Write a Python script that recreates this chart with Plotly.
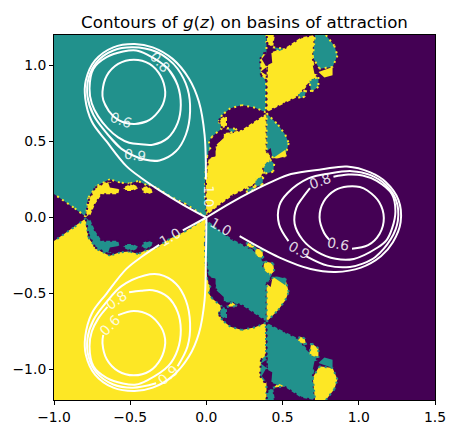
import plotly.graph_objects as go

PURPLE, TEAL, YELLOW, WHITE = "#440154", "#21918c", "#fde725", "#ffffff"
title_text = "Contours of <i>g</i>(<i>z</i>) on basins of attraction"
tick_x = [-1.0, -0.5, 0.0, 0.5, 1.0, 1.5]
tick_y = [-1.0, -0.5, 0.0, 0.5, 1.0]

teal_main = [(-1,1.2),(0.395,1.2),(0.39,0.692),(0.319,0.722),(0.233,0.739),(0.157,0.718),(0.103,0.674),(0.081,0.631),(0.103,0.587),(0.038,0.533),(0.016,0.5),(0.027,0.446),(0.005,0.403),(-0.005,0.305),(-0.01,0.175),(0,0),(-0.135,0.088),(-0.244,0.142),(-0.33,0.197),(-0.395,0.214),(-0.449,0.24),(-0.503,0.223),(-0.568,0.229),(-0.633,0.251),(-0.72,0.207),(-0.774,0.131),(-0.791,0.005),(-0.871,0.066),(-0.936,0.11),(-1,0.155)]
yellow_centre = [(0,0),(-0.005,0.175),(0,0.305),(0.016,0.392),(0.049,0.403),(0.06,0.468),(0.114,0.555),(0.168,0.561),(0.233,0.577),(0.395,0.685),(0.395,0.435),(0.432,0.388),(0.373,0.327),(0.373,0.283),(0.319,0.218),(0.254,0.186),(0.168,0.142),(0.081,0.077),(0.005,0.018)]
yellow_upper = [(0.395,0.692),(0.395,0.978),(0.423,1.087),(0.514,1.113),(0.622,1.185),(0.713,1.2),(0.698,1.043),(0.73,0.935),(0.665,0.87),(0.6,0.794),(0.514,0.751)]
yellow_top = [(0.395,1.2),(0.449,1.2),(0.438,1.12),(0.4,1.141)]
yellow_side = [(0.352,1.043),(0.384,1.087),(0.4,1.05),(0.395,0.9),(0.358,0.935)]
yellow_lobe_tip = [(0.081,0.642),(0.135,0.674),(0.135,0.598),(0.103,0.587)]
yellow_wedge = [(0.438,0.392),(0.518,0.446),(0.525,0.403),(0.46,0.388)]
yellow_ear = [(0.735,0.957),(0.828,0.989),(0.828,0.935),(0.774,0.92)]
yellow_leaf = [(-0.791,0.012),(-0.774,0.11),(-0.73,0.197),(-0.644,0.24),(-0.568,0.197),(-0.579,0.153),(-0.687,0.153),(-0.73,0.088),(-0.763,0.012)]
yellow_blob_a = [(-0.547,0.197),(-0.492,0.223),(-0.438,0.197),(-0.481,0.175),(-0.536,0.175)]
yellow_blob_b = [(-0.427,0.197),(-0.384,0.207),(-0.341,0.168),(-0.384,0.153),(-0.417,0.164)]
teal_lobe = [(0.395,0.685),(0.471,0.609),(0.518,0.544),(0.54,0.49),(0.518,0.403),(0.438,0.392),(0.395,0.446)]
teal_bit_a = [(0.373,0.338),(0.417,0.381),(0.445,0.353),(0.438,0.301),(0.38,0.288)]
teal_bit_b = [(0.324,0.257),(0.373,0.266),(0.367,0.214),(0.319,0.203)]
teal_bit_c = [(0.265,0.192),(0.319,0.203),(0.308,0.181),(0.265,0.164)]
teal_bit_d = [(0.135,0.587),(0.2,0.583),(0.168,0.555)]
teal_bit_e = [(0.438,1.12),(0.514,1.109),(0.471,1.091)]
teal_ear = [(0.713,1.2),(0.784,1.2),(0.839,1.13),(0.86,1.065),(0.828,0.989),(0.741,0.978),(0.698,1.054)]
teal_bit_f = [(0.676,0.902),(0.735,0.924),(0.735,0.859),(0.687,0.826)]
teal_bit_g = [(0.6,0.816),(0.655,0.837),(0.644,0.794),(0.611,0.783)]
purple_a = [(0.012,0.435),(0.06,0.468),(0.06,0.403),(0.016,0.392)]
purple_b = [(0.055,0.522),(0.114,0.57),(0.114,0.522),(0.07,0.483)]
purple_c = [(0.395,0.435),(0.422,0.457),(0.432,0.403)]
purple_d = [(0.363,1.043),(0.423,1.12),(0.432,1.017),(0.39,0.996)]
purple_e = [(0.358,0.96),(0.395,0.99),(0.395,0.935)]
purple_f = [(0.698,1.0),(0.735,0.983),(0.735,0.939),(0.709,0.946)]
purple_g = [(-0.644,0.229),(-0.568,0.223),(-0.568,0.186),(-0.633,0.197)]

layer_a = [teal_main]
layer_b = [yellow_centre, yellow_upper, yellow_top, yellow_side, yellow_lobe_tip, yellow_leaf, yellow_blob_a, yellow_blob_b]
layer_c = [teal_lobe, teal_bit_a, teal_bit_b, teal_bit_c, teal_bit_d, teal_bit_e, teal_ear, teal_bit_f, teal_bit_g]
layer_d = [yellow_wedge, yellow_ear]
layer_e = [purple_a, purple_b, purple_c, purple_d, purple_e, purple_f, purple_g]

# Contour loops of g(z) as read in the teal basin
loop_06 = [(-0.476,0.614),(-0.373,0.642),(-0.298,0.72),(-0.277,0.77),(-0.27,0.826),(-0.3,0.93),(-0.373,1.01),(-0.476,1.038),(-0.579,1.01),(-0.654,0.932),(-0.682,0.826),(-0.677,0.772),(-0.64,0.7),(-0.579,0.642)]
loop_08 = [(-0.248,0.974),(-0.189,0.87),(-0.168,0.739),(-0.189,0.62),(-0.254,0.522),(-0.352,0.479),(-0.43,0.482),(-0.507,0.492),(-0.579,0.527),(-0.649,0.588),(-0.71,0.665),(-0.752,0.75),(-0.767,0.848),(-0.741,0.978),(-0.655,1.054),(-0.547,1.091),(-0.46,1.098),(-0.391,1.072)]
loop_09 = [(-0.406,0.381),(-0.308,0.375),(-0.2,0.435),(-0.135,0.544),(-0.107,0.696),(-0.124,0.848),(-0.189,0.978),(-0.25,1.04),(-0.33,1.09),(-0.482,1.119),(-0.611,1.098),(-0.72,1.022),(-0.774,0.913),(-0.78,0.794),(-0.741,0.674),(-0.655,0.555),(-0.557,0.451)]
tear_10 = [(0,0),(-0.003,0.25),(-0.012,0.544),(-0.049,0.761),(-0.114,0.913),(-0.222,1.043),(-0.352,1.119),(-0.471,1.141),(-0.611,1.119),(-0.731,1.033),(-0.791,0.902),(-0.795,0.783),(-0.752,0.631),(-0.655,0.5),(-0.525,0.338),(-0.42,0.255),(-0.31,0.18),(-0.155,0.085),(0,0)]

# Which stretch of each loop stays open for its label: (teal, yellow, purple) as (last, first) point
gap_06 = ((12, 0), (11, 13), (3, 5))
gap_08 = ((17, 0), (7, 9), (7, 9))
gap_09 = ((16, 0), (6, 8), (3, 4))

# Contour labels: text, x, y, angle
labels = [("0.8",-0.304,1.022,48),("0.6",-0.562,0.642,20),("0.9",-0.471,0.41,8),("1.0",0.016,0.14,90),
          ("0.8",-0.59,-0.54,-35),("0.6",-0.63,-0.71,-45),("0.9",-0.25,-1.035,-40),("1.0",-0.237,-0.129,-30),
          ("0.8",0.748,0.24,-20),("0.6",0.865,-0.177,10),("0.9",0.607,-0.216,30),("1.0",0.098,-0.06,30)]


def same(p):
    return p

def mirror(p):
    return (p[0], -p[1])

def turn(p):
    return (-0.5*p[0] + 0.866*p[1], -0.866*p[0] - 0.5*p[1])

def on_frame(p, q):
    return (p[0] == -1 and q[0] == -1) or (abs(p[1]) == 1.2 and abs(q[1]) == 1.2)


fig = go.Figure()

def region(points, colour, flip=False, edge=None):
    pts = [mirror(p) for p in points] if flip else points
    fig.add_trace(go.Scatter(x=[p[0] for p in pts], y=[p[1] for p in pts], mode="lines", fill="toself",
                             fillcolor=colour, line=dict(width=0), hoverinfo="skip", showlegend=False))
    if edge:
        ex, ey = [], []
        for p, q in zip(pts, pts[1:] + pts[:1]):
            if not on_frame(p, q):
                ex += [p[0], q[0], None]
                ey += [p[1], q[1], None]
        fig.add_trace(go.Scatter(x=ex, y=ey, mode="lines",
                                 line=dict(color=edge, width=2, dash="2px,4px"), hoverinfo="skip", showlegend=False))

for flip, c1, c2 in ((False, TEAL, YELLOW), (True, YELLOW, TEAL)):
    for poly in layer_a:
        region(poly, c1, flip, edge=c2)
    for poly in layer_b:
        region(poly, c2, flip, edge=PURPLE)
    for poly in layer_c:
        region(poly, c1, flip, edge=c2)
    for poly in layer_d:
        region(poly, c2, flip)
    for poly in layer_e:
        region(poly, PURPLE, flip)

def curve(points):
    fig.add_trace(go.Scatter(x=[None if p is None else p[0] for p in points],
                             y=[None if p is None else p[1] for p in points],
                             mode="lines", line=dict(color=WHITE, width=2, shape="spline", smoothing=1),
                             hoverinfo="skip", showlegend=False))

def open_loop(loop, gap):
    last, first = gap
    return loop[first:] + loop[:last + 1]

for loop, gaps in ((loop_06, gap_06), (loop_08, gap_08), (loop_09, gap_09)):
    for fn, g in zip((same, mirror, turn), gaps):
        curve([fn(p) for p in open_loop(loop, g)])

curve(tear_10[1:])
curve([turn(p) for p in tear_10[1:]])
curve([mirror(p) for p in tear_10[:17]] + [None] + [mirror(p) for p in tear_10[17:]])

for text, x, y, angle in labels:
    fig.add_annotation(x=x, y=y, text=text, textangle=angle, showarrow=False,
                       font=dict(family="DejaVu Sans", size=13.9, color="rgba(255,255,255,0.85)"))

axis = dict(showgrid=False, zeroline=False, showline=True, mirror=True, linecolor="black", linewidth=1,
            ticks="outside", ticklen=4, tickwidth=1, tickcolor="black", tickformat=".1f",
            tickfont=dict(family="DejaVu Sans", size=13.9, color="black"))
fig.update_layout(width=458, height=437, margin=dict(l=53, r=20, t=35, b=34),
                  paper_bgcolor="white", plot_bgcolor=PURPLE, showlegend=False,
                  title=dict(text=title_text, xref="paper", x=0.5, xanchor="center", yref="container", y=0.95, yanchor="middle",
                             font=dict(family="DejaVu Sans", size=16.67, color="black")),
                  xaxis=dict(axis, range=[-1, 1.5], tickvals=tick_x),
                  yaxis=dict(axis, range=[-1.2, 1.2], tickvals=tick_y))
fig.write_html("out.html", config=dict(displayModeBar=False), post_script="document.body.style.margin='0';")
